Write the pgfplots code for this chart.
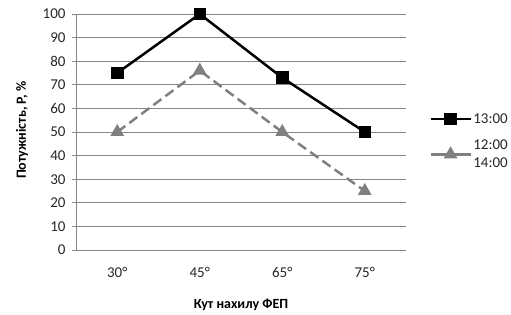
\documentclass[border=0pt]{standalone}
\usepackage{pgfplots}
\pgfplotsset{compat=1.18}
\usepackage{fontspec}
\setmainfont{Carlito}
\definecolor{gridgray}{RGB}{134,134,134}
\definecolor{sergray}{RGB}{128,128,128}
\begin{document}
\begin{tikzpicture}
\useasboundingbox (-76pt,-65pt) rectangle (435pt,250pt);
\begin{axis}[
  at={(0pt,0pt)}, anchor=south west,
  scale only axis, width=330pt, height=236pt,
  xmin=-0.5, xmax=3.5, ymin=0, ymax=100,
  xtick={0,1,2,3}, xticklabels={30°,45°,65°,75°},
  ytick={0,10,...,100},
  axis x line*=bottom, axis y line*=left,
  axis line style={gridgray, line width=0.8pt, -},
  ymajorgrids, grid style={gridgray, line width=0.8pt},
  x tick style={draw=none},
  y tick style={gridgray, line width=0.8pt},
  tick align=outside, major tick length=4pt,
  /pgf/number format/assume math mode=true,
  tick label style={font=\fontsize{15}{18}\selectfont, text=black!85},
  xticklabel style={yshift=-10pt},
  yticklabel style={xshift=-3pt},
  xlabel={Кут нахилу ФЕП}, ylabel={Потужність, P, \%},
  every axis x label/.style={at={(165pt,-55pt)}, anchor=center, font=\bfseries\fontsize{14}{17}\selectfont},
  every axis y label/.style={at={(-54pt,120pt)}, anchor=center, rotate=90, font=\bfseries\fontsize{14}{17}\selectfont},
  legend style={at={(rel axis cs:1.067,0.59)}, anchor=north west, draw=none,
    font=\fontsize{15}{18}\selectfont, row sep=12pt, inner sep=1pt,
    nodes={align=left, text=black!85, inner sep=1.5pt}, cells={anchor=west}},
  legend image code/.code={\draw[solid, mark repeat=2,mark phase=2] plot coordinates {(0pt,0pt)(20pt,0pt)(40pt,0pt)};},
  clip=false,
]
\addplot[black, line width=2.5pt, mark=square*, mark size=5pt, mark options={solid}] coordinates {(0,75) (1,100) (2,73) (3,50)};
\addlegendentry{13:00}
\addplot[sergray, line width=2.5pt, dash pattern=on 10pt off 5pt, mark=triangle*, mark size=5.5pt, mark options={solid}] coordinates {(0,50) (1,76) (2,50) (3,25)};
\addlegendentry{12:00\\14:00}
\end{axis}
\end{tikzpicture}
\end{document}
